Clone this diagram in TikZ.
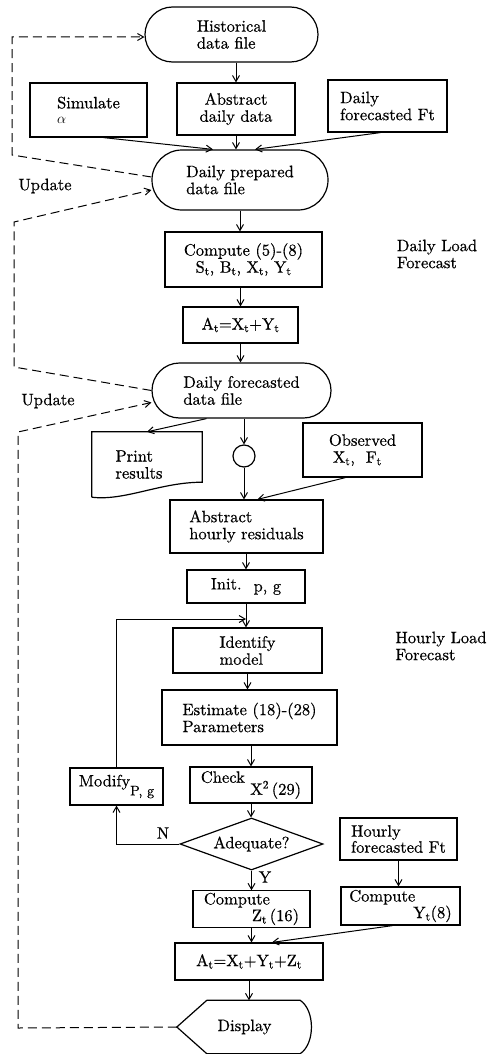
\documentclass[tikz,border=0pt]{standalone}
\usepackage{fontspec}
\setmainfont{lmroman10-regular}[Extension=.otf, FakeBold=0.5]
\usetikzlibrary{shapes.misc,shapes.geometric,arrows.meta}
\begin{document}
\begin{tikzpicture}[x=1pt,y=-1pt,
  every node/.style={font=\fontsize{16.5}{17}\selectfont, inner sep=2pt},
  box/.style={draw, rectangle, line width=1.2pt, align=left},
  term/.style={draw, rounded rectangle, line width=1.2pt, align=left},
  arrowtip/.style={-{Straight Barb[length=6pt,width=7pt]}},
  arr/.style={line width=1pt, arrowtip},
  dsh/.style={line width=1pt, dash pattern=on 9pt off 5pt},
  lbl/.style={align=left}]
\useasboundingbox (0,0) rectangle (500,1054);

% nodes
\node[term, minimum width=177pt, minimum height=55pt] (hist) at (231.5,34.5) {Historical\\data file};
\node[box, minimum width=117pt, minimum height=54pt] (sim) at (88.5,110) {Simulate\\[-2pt]{\fontsize{14}{14}\selectfont$\alpha$}};
\node[box, align=center, minimum width=118pt, minimum height=52pt] (abs) at (236,109) {Abstract\\daily data};
\node[box, minimum width=119pt, minimum height=52pt] (dft) at (387.5,106) {Daily\\forecasted Ft};
\node[term, minimum width=180pt, minimum height=60pt] (prep) at (240,180) {Daily prepared\\data file};
\node[box, align=center, minimum width=157pt, minimum height=55pt] (comp) at (243.5,259.5) {Compute (5)-(8)\\S\textsubscript{t}, B\textsubscript{t}, X\textsubscript{t}, Y\textsubscript{t}};
\node[box, minimum width=115pt, minimum height=36pt] (at1) at (240.5,325) {A\textsubscript{t}=X\textsubscript{t}+Y\textsubscript{t}};
\node[term, minimum width=183pt, minimum height=55pt] (dff) at (241.5,390.5) {Daily forecasted\\data file};
\node[minimum width=110pt, minimum height=65pt, align=left] (prt) at (147,464.5) {Print\hspace*{16pt}\\results\hspace*{16pt}};
\draw[line width=1.2pt] (prt.south west) -- (prt.north west) -- (prt.north east) -- ([yshift=15pt]prt.south east)
  .. controls ([xshift=-42pt,yshift=15pt]prt.south east) and ([xshift=33pt,yshift=-4pt]prt.south west) .. (prt.south west);
\node[circle, draw, line width=1.2pt, minimum size=22pt, inner sep=0pt] (circ) at (244,456) {};
\node[box, minimum width=119pt, minimum height=54pt] (obs) at (362.5,450) {Observed\\\hspace*{4pt}X\textsubscript{t},\ \ F\textsubscript{t}};
\node[box, minimum width=153pt, minimum height=53pt] (ahr) at (246.5,526.5) {Abstract\\hourly residuals};
\node[box, minimum width=118pt, minimum height=33pt] (init) at (246,586.5) {Init.\hspace{12pt}\raisebox{-2pt}{p, g}};
\node[box, minimum width=149pt, minimum height=45pt] (ident) at (247.5,650.5) {Identify\\model};
\node[box, minimum width=175pt, minimum height=55pt] (est) at (249.5,717.5) {Estimate (18)-(28)\\Parameters};
\node[box, minimum width=122pt, minimum height=36pt] (chk) at (251,785) {Check \raisebox{-12pt}{X\textsuperscript{2}\,(29)}};
\node[box, minimum width=93pt, minimum height=37pt] (mod) at (116.5,786.5) {Modify\raisebox{-9pt}{\fontsize{14}{14}\selectfont P, g}};
\node[diamond, draw, line width=1.2pt, minimum width=143pt, minimum height=52pt, inner sep=0pt, aspect=2.75] (adq) at (251.5,844) {Adequate?};
\node[box, minimum width=117pt, minimum height=42pt, font=\fontsize{16.5}{15}\selectfont] (hft) at (398.5,839) {Hourly\\forecasted Ft};
\node[box, minimum width=117pt, minimum height=34pt, font=\fontsize{16.5}{15}\selectfont] (cz) at (251.5,909) {Compute\\\hspace*{48pt}Z\textsubscript{t}\,(16)};
\node[box, minimum width=119pt, minimum height=38pt, font=\fontsize{16.5}{13}\selectfont] (cy) at (400.5,906) {Compute\\\hspace*{64pt}Y\textsubscript{t}(8)};
\node[box, minimum width=148pt, minimum height=37pt] (at2) at (249,961.5) {A\textsubscript{t}=X\textsubscript{t}+Y\textsubscript{t}+Z\textsubscript{t}};
\node[minimum width=135pt, minimum height=53pt, inner sep=0pt] (disp) at (244.5,1027) {Display};
\draw[line width=1.2pt] (disp.west) -- ([xshift=30pt]disp.north west) -- ([xshift=-12pt]disp.north east)
  .. controls ([xshift=3pt,yshift=-10pt]disp.north east) and ([xshift=3pt,yshift=10pt]disp.south east) .. ([xshift=-12pt]disp.south east)
  -- ([xshift=30pt]disp.south west) -- cycle;

% labels
\node[lbl] (up1) at (45,186) {Update};
\node[lbl] (up2) at (48,401) {Update};
\node[lbl] (dlf) at (437,254) {Daily Load\\Forecast};
\node[lbl] (hlf) at (441,646) {Hourly Load\\Forecast};
\node (nl) at (163,833) {N};
\node (yl) at (265,877) {Y};

% connectors
\draw[arr] (abs.north |- hist.south) -- (abs.north);
\draw[arr] ([xshift=15pt]sim.south) -- ([xshift=-27pt]prep.north);
\draw[arr] (abs.south) -- (abs.south |- prep.north);
\draw[arr] ([xshift=-7pt]dft.south) -- ([xshift=15pt]prep.north);
\draw[arr] (prep.south) -- (prep.south |- comp.north);
\draw[arr] (at1.north |- comp.south) -- (at1.north);
\draw[arr] (at1.south) -- (at1.south |- dff.north);
\draw[arr] ([xshift=-35pt]dff.south) -- (prt.north);
\draw[arr] (circ.north |- dff.south) -- (circ.north);
\draw[arr] (circ.south) -- (circ.south |- ahr.north);
\draw[arr] ([xshift=-17pt]obs.south) -- ([xshift=11pt]ahr.north);
\draw[arr] (init.north |- ahr.south) -- (init.north);
\draw[arr] (init.south) -- (init.south |- ident.north);
\draw[arr] (ident.south) -- (ident.south |- est.north);
\draw[arr] (chk.north |- est.south) -- (chk.north);
\draw[arr] (chk.south) -- (chk.south |- adq.north);
\draw[arr] (adq.south) -- (adq.south |- cz.north);
\draw[arr] (hft.south) -- (hft.south |- cy.north);
\draw[arr] (cz.south) -- (cz.south |- at2.north);
\draw[arr] ([xshift=-8pt]cy.south) -- ([xshift=23pt]at2.north);
\draw[arr] (at2.south) -- (at2.south |- disp.north);
\coordinate (lp) at (246,619);
\draw[arr] (mod.north) |- (lp);
\draw[arr] (adq.west) -| (mod.south);

% dashed update loops
\coordinate (d1a) at (12,155); \coordinate (d1b) at (12,37);
\draw[dsh, arrowtip] ([yshift=3pt]prep.west) -- (d1a) -- (d1b) -- (d1b -| hist.west);
\coordinate (d2a) at (14,367); \coordinate (d2b) at (14,222);
\draw[dsh, arrowtip] (dff.west) -- (d2a) -- (d2b) -- ([yshift=-10pt]prep.west);
\coordinate (d3a) at (18,1028); \coordinate (d3b) at (18,432);
\draw[dsh, arrowtip] (disp.west) -- (d3a) -- (d3b) -- ([yshift=-12pt]dff.west);
\end{tikzpicture}
\end{document}
